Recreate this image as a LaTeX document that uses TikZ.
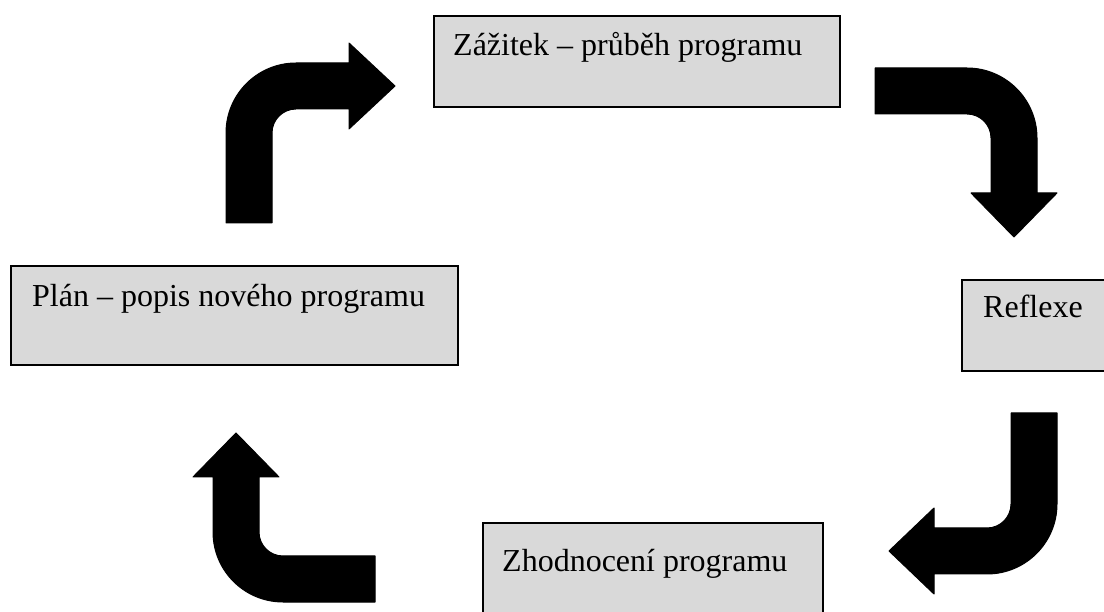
\documentclass[tikz,border=0pt]{standalone}
\usepackage{fontspec}
\setmainfont{Liberation Serif}
\usetikzlibrary{calc}
\definecolor{boxgray}{HTML}{D9D9D9}
\begin{document}
\begin{tikzpicture}[x=1pt,y=1pt,
  box/.style={draw=black, line width=2pt, fill=boxgray, rectangle, inner sep=0pt, anchor=north west},
  lbl/.style={anchor=base west, inner sep=0pt, font=\fontsize{32}{38}\selectfont},
  blockarrow/.style={fill=black, draw=black, line width=1pt, line join=round}]
\useasboundingbox (0,0) rectangle (1104,611);
\begin{scope}
\clip (0,0) rectangle (1104,611);
% boxes
\node[box, minimum width=406pt, minimum height=91pt] (b1) at (433,596) {};
\node[box, minimum width=447pt, minimum height=99pt] (b2) at (10,346) {};
\node[box, minimum width=160pt, minimum height=91pt] (b3) at (961,332) {};
\node[box, minimum width=340pt, minimum height=110pt] (b4) at (482,89) {};
% labels
\node[lbl] (t1) at ($(b1.north west)+(20,-41)$) {Zážitek – průběh programu};
\node[lbl] (t2) at ($(b2.north west)+(22,-42)$) {Plán – popis nového programu};
\node[lbl] (t3) at ($(b3.north west)+(22,-39)$) {Reflexe};
\node[lbl] (t4) at ($(b4.north west)+(20,-50)$) {Zhodnocení programu};
% arrow: plan -> zazitek
\path[blockarrow] (226,388) -- (226,478) arc[start angle=180, end angle=90, radius=70]
  -- (349,548) -- (349,568) -- (395,525) -- (349,482) -- (349,502) -- (296,502)
  arc[start angle=90, end angle=180, radius=24] -- (272,388) -- cycle;
% arrow: zazitek -> reflexe
\path[blockarrow] (875,543) -- (967,543) arc[start angle=90, end angle=0, radius=70]
  -- (1037,418) -- (1057,418) -- (1014,374) -- (971,418) -- (991,418) -- (991,473)
  arc[start angle=0, end angle=90, radius=24] -- (875,497) -- cycle;
% arrow: reflexe -> zhodnoceni
\path[blockarrow] (1057,198) -- (1057,107) arc[start angle=0, end angle=-90, radius=70]
  -- (934,37) -- (934,17) -- (889,60) -- (934,103) -- (934,83) -- (987,83)
  arc[start angle=-90, end angle=0, radius=24] -- (1011,198) -- cycle;
% arrow: zhodnoceni -> plan
\path[blockarrow] (375,55) -- (283,55) arc[start angle=-90, end angle=-180, radius=24]
  -- (259,134) -- (279,134) -- (236,178) -- (193,134) -- (213,134) -- (213,79)
  arc[start angle=180, end angle=270, radius=70] -- (375,9) -- cycle;
\end{scope}
\end{tikzpicture}
\end{document}
